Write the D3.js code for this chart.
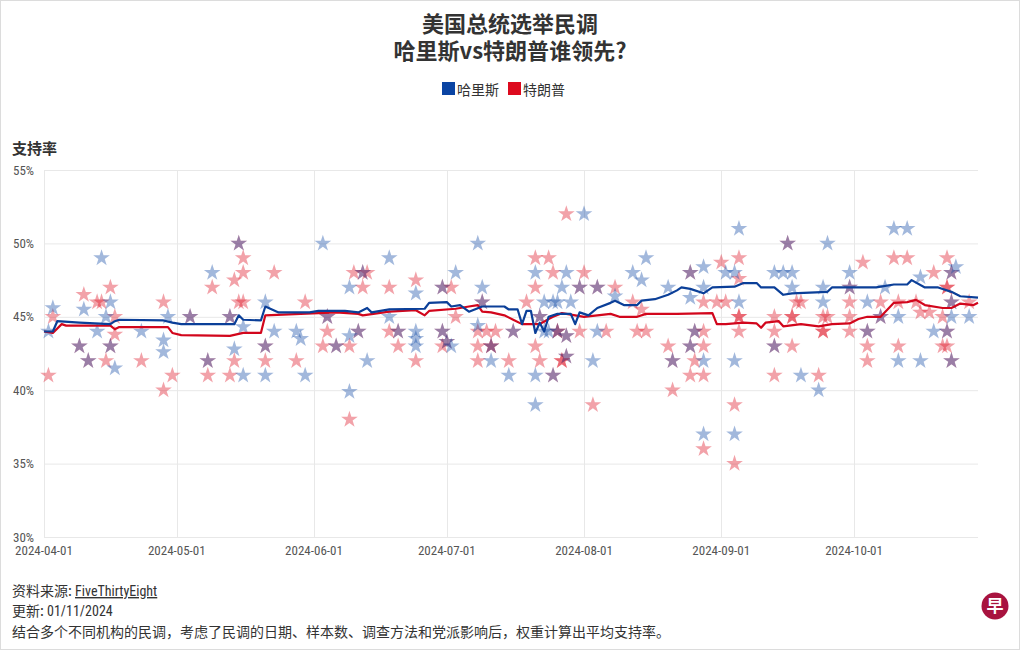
<!DOCTYPE html>
<html><head><meta charset="utf-8">
<script src="https://cdn.jsdelivr.net/npm/d3@7"></script>
<style>
body{margin:0;background:#fff;}
svg{display:block;}
</style></head><body><svg id="c" width="1020" height="650"></svg>
<script>
// ---------------- DATA ----------------
const seriesNames = ["哈里斯", "特朗普"];
const yTicks = [30, 35, 40, 45, 50, 55];
const xTicks = ["2024-04-01","2024-05-01","2024-06-01","2024-07-01","2024-08-01","2024-09-01","2024-10-01"];
const xDomain = ["2024-04-01", "2024-10-29"];

// individual polls (date MM-DD in 2024, support %)
const harrisPolls = [["04-02",44],["04-03",45.6],["04-09",43],["04-10",45.5],["04-11",42],["04-13",44],["04-14",49],["04-15",45],["04-16",46],["04-16",43],["04-17",41.5],["04-23",44],["04-28",43.4],["04-28",42.6],["04-29",45],
["05-04",45],["05-08",42],["05-09",48],["05-13",45],["05-14",42.8],["05-15",50],["05-16",44.3],["05-16",41],["05-21",46],["05-21",43],["05-21",41],["05-23",44],["05-28",44],["05-29",43.5],["05-30",41],
["06-03",50],["06-04",45],["06-06",43],["06-09",43.7],["06-09",47],["06-09",39.9],["06-11",44],["06-12",48],["06-13",42],["06-18",49],["06-18",45],["06-20",44],["06-24",44],["06-24",43.5],["06-24",43],["06-24",46.6],["06-30",47],["06-30",44],
["07-01",43.3],["07-02",43],["07-03",48],["07-08",50],["07-08",44.4],["07-09",47],["07-09",46],["07-11",42],["07-11",43],["07-15",41],["07-16",44],["07-21",39],["07-21",48],["07-21",41],["07-22",45],["07-23",46],["07-23",44],["07-24",44],["07-25",46],["07-25",41],["07-26",46],["07-26",44],["07-27",47],["07-28",48],["07-28",43.7],["07-28",42.3],["07-29",46],["07-31",47],
["08-01",52],["08-03",42],["08-04",47],["08-04",44],["08-08",46.4],["08-12",48],["08-14",47.5],["08-15",49],["08-20",47],["08-21",42],["08-25",48],["08-25",43],["08-25",46.3],["08-26",44],["08-28",48.4],["08-28",47],["08-28",42],["08-28",37],
["09-02",48],["09-04",48],["09-04",42],["09-04",37],["09-05",51],["09-05",46],["09-13",48],["09-13",43],["09-15",48],["09-16",50],["09-17",48],["09-17",47],["09-19",41],["09-23",40],["09-24",47],["09-24",46],["09-25",50],["09-30",48],["09-30",47],
["10-04",46],["10-04",44],["10-07",45],["10-08",47],["10-10",51],["10-11",45],["10-11",42],["10-13",51],["10-16",47.7],["10-16",42],["10-19",44],["10-22",44],["10-23",48],["10-23",46],["10-23",45],["10-23",42],["10-24",48.4],["10-27",45]];

const trumpPolls = [["04-02",41],["04-03",45],["04-09",43],["04-10",46.5],["04-11",42],["04-13",46],["04-14",46],["04-15",42],["04-16",47],["04-16",43],["04-17",45],["04-17",43.8],["04-23",42],["04-28",46],["04-28",40],["04-30",41],
["05-04",45],["05-08",42],["05-08",41],["05-09",47],["05-13",41],["05-13",45],["05-14",47.5],["05-14",42],["05-15",50],["05-15",46],["05-16",49],["05-16",48],["05-16",46],["05-21",43],["05-21",42],["05-23",48],["05-28",42],["05-30",46],
["06-03",43],["06-04",44],["06-04",45],["06-06",43],["06-09",43],["06-09",38],["06-10",48],["06-11",44],["06-12",48],["06-12",47],["06-13",48],["06-18",47],["06-18",44],["06-20",43],["06-20",44],["06-24",47.5],["06-24",42],["06-30",47],["06-30",43],["06-30",44],
["07-01",43.3],["07-02",47],["07-03",45],["07-08",44],["07-08",43],["07-08",42],["07-09",46],["07-10",44],["07-11",43],["07-11",43],["07-12",44],["07-15",42],["07-16",44],["07-19",46],["07-21",49],["07-21",47],["07-21",43],["07-22",45],["07-22",42],["07-24",49],["07-25",48],["07-25",41],["07-26",44],["07-26",44],["07-27",42],["07-27",42],["07-28",52],["07-28",43.7],["07-28",42.3],["07-31",44],["07-31",47],
["08-01",48],["08-03",39],["08-04",47],["08-06",44],["08-08",47],["08-12",46],["08-13",44],["08-14",45.5],["08-15",44],["08-20",43],["08-21",42],["08-21",40],["08-25",48],["08-25",43],["08-25",41],["08-26",44],["08-26",42],["08-28",46],["08-28",44],["08-28",43],["08-28",41],["08-28",36],["08-31",46],
["09-01",48.7],["09-02",46],["09-04",39],["09-04",35],["09-05",49],["09-05",47.6],["09-05",45],["09-05",45],["09-05",44],["09-13",45],["09-13",44],["09-13",43],["09-13",41],["09-16",50],["09-17",45],["09-17",45],["09-17",43],["09-18",46],["09-19",46],["09-23",41],["09-24",45],["09-24",44],["09-24",44],["09-25",45],["09-30",47],["09-30",46],["09-30",45],["09-30",44],
["10-03",48.7],["10-04",44],["10-04",43],["10-04",42],["10-07",45],["10-07",46],["10-10",49],["10-11",46],["10-11",43],["10-13",49],["10-15",46],["10-16",45.3],["10-18",45.3],["10-19",48],["10-21",45],["10-21",43],["10-22",43],["10-22",47],["10-22",47],["10-22",44],["10-22",49],["10-23",48],["10-23",46],["10-23",42],["10-27",46]];

// weighted polling averages
const harrisAvg = [["04-01",44.0],["04-03",44.0],["04-04",44.7],["04-09",44.6],["04-16",44.5],["04-17",44.7],["04-18",44.8],["04-28",44.75],["04-30",44.6],["05-02",44.5],["05-14",44.5],["05-15",45.1],["05-16",44.8],["05-20",44.75],["05-21",45.7],["05-24",45.3],["05-31",45.3],["06-02",45.4],["06-08",45.4],["06-11",45.3],["06-13",45.6],["06-14",45.3],["06-18",45.5],["06-26",45.55],["06-27",45.95],["07-01",46.0],["07-02",45.7],["07-04",45.8],["07-06",45.35],["07-09",45.7],["07-14",45.7],["07-15",45.5],["07-17",45.5],["07-18",44.5],["07-19",45.4],["07-20",45.4],["07-21",43.9],["07-22",44.6],["07-23",44.0],["07-24",45.0],["07-26",45.2],["07-29",45.2],["07-30",44.5],["07-31",45.3],["08-02",45.1],["08-04",45.6],["08-07",45.95],["08-08",46.1],["08-10",45.8],["08-13",45.8],["08-14",46.1],["08-17",46.2],["08-20",46.5],["08-22",46.8],["08-23",47.0],["08-25",46.9],["08-28",46.6],["08-30",47.0],["09-04",47.05],["09-06",47.3],["09-09",47.3],["09-10",47.0],["09-13",47.0],["09-15",46.5],["09-17",46.6],["09-25",46.7],["09-26",47.0],["10-06",47.0],["10-10",47.2],["10-13",47.2],["10-14",47.5],["10-17",47.0],["10-20",47.0],["10-23",46.7],["10-25",46.4],["10-29",46.3]];

const trumpAvg = [["04-01",44.0],["04-03",43.9],["04-05",44.5],["04-06",44.4],["04-16",44.4],["04-17",44.15],["04-18",44.3],["04-29",44.3],["04-30",43.9],["05-02",43.75],["05-13",43.7],["05-16",43.9],["05-20",43.9],["05-21",45.1],["06-06",45.3],["06-11",45.2],["06-12",45.1],["06-18",45.35],["06-24",45.45],["06-26",45.1],["06-27",45.4],["07-03",45.55],["07-06",45.7],["07-08",45.8],["07-09",45.35],["07-11",45.3],["07-14",45.1],["07-16",44.8],["07-18",44.5],["07-22",44.5],["07-24",44.85],["07-25",45.0],["07-27",45.25],["08-01",45.0],["08-04",45.1],["08-07",45.2],["08-09",45.0],["08-13",45.0],["08-15",45.2],["08-22",45.2],["08-30",45.25],["08-31",44.5],["09-02",44.5],["09-06",44.6],["09-09",44.55],["09-10",44.25],["09-11",44.6],["09-14",44.7],["09-15",44.35],["09-19",44.5],["09-23",44.35],["09-26",44.5],["09-30",44.55],["10-02",44.85],["10-04",45.0],["10-07",45.0],["10-10",45.95],["10-13",46.0],["10-15",46.15],["10-17",45.8],["10-21",45.6],["10-23",45.6],["10-25",45.9],["10-28",45.8],["10-29",45.95]];

// ---------------- STYLE ----------------
const LATIN = '"Roboto Condensed","Liberation Sans Narrow","Arial Narrow","Noto Sans CJK SC",sans-serif';
const CJK = '"Noto Sans CJK SC",sans-serif';
const blue = "#0a44a3", red = "#dd0a1e";
const blueLine = "#0b3f98", redLine = "#d2061c";

const parse = d3.timeParse("%Y-%m-%d");
const pd = s => parse("2024-" + s);

const svg = d3.select("#c");
svg.append("rect").attr("x",0.5).attr("y",0.5).attr("width",1019).attr("height",649)
  .attr("fill","#fff").attr("stroke","#dcdcdc");

const L = 44, R = 978, T = 170, B = 537;
const x = d3.scaleTime().domain(xDomain.map(parse)).range([L, R]);
const y = d3.scaleLinear().domain([30, 55]).range([B, T]);

// title
svg.append("text").attr("x",510).attr("y",32).attr("text-anchor","middle").attr("font-family",CJK)
  .attr("font-weight","bold").attr("font-size",22).attr("fill","#333").text("美国总统选举民调");
svg.append("text").attr("x",510).attr("y",59).attr("text-anchor","middle").attr("font-family",CJK)
  .attr("font-weight","bold").attr("font-size",22).attr("fill","#333").text("哈里斯vs特朗普谁领先?");

// legend
const leg = svg.append("g");
const legItems = [{name:seriesNames[0], c:blue, x:442},{name:seriesNames[1], c:red, x:508}];
legItems.forEach(it => {
  leg.append("rect").attr("x",it.x).attr("y",82).attr("width",13).attr("height",13).attr("fill",it.c);
  leg.append("text").attr("x",it.x+15).attr("y",95).attr("font-family",CJK).attr("font-size",14)
    .attr("fill","#333").text(it.name);
});

// y label
svg.append("text").attr("x",12).attr("y",154).attr("font-family",CJK).attr("font-weight","bold")
  .attr("font-size",15).attr("fill","#333").text("支持率");

// grid
const grid = svg.append("g");
grid.selectAll("line.h").data(yTicks).join("line").attr("class","h")
  .attr("x1",L).attr("x2",R).attr("y1",d=>y(d)+0.5).attr("y2",d=>y(d)+0.5)
  .attr("stroke","#e8e8e8");
grid.selectAll("line.v").data(xTicks).join("line").attr("class","v")
  .attr("x1",d=>Math.round(x(parse(d)))+0.5).attr("x2",d=>Math.round(x(parse(d)))+0.5)
  .attr("y1",T).attr("y2",B).attr("stroke","#e8e8e8");

// y tick labels
svg.append("g").selectAll("text").data(yTicks).join("text")
  .attr("x",13).attr("y",d=>y(d)).attr("dy","0.35em")
  .attr("font-family",LATIN).attr("font-size",13).attr("fill","#555").text(d=>d+"%");

// x tick labels
svg.append("g").selectAll("text").data(xTicks).join("text")
  .attr("x",d=>x(parse(d))).attr("y",555).attr("text-anchor","middle")
  .attr("font-family",LATIN).attr("font-size",13).attr("fill","#555").text(d=>d);

// stars
const star = d3.symbol().type(d3.symbolStar).size(86);
const pts = svg.append("g");
pts.selectAll("path.t").data(trumpPolls).join("path").attr("class","t")
  .attr("d",star).attr("transform",d=>`translate(${x(pd(d[0]))},${y(d[1])})`)
  .attr("fill",red).attr("fill-opacity",0.38);
pts.selectAll("path.h").data(harrisPolls).join("path").attr("class","h")
  .attr("d",star).attr("transform",d=>`translate(${x(pd(d[0]))},${y(d[1])})`)
  .attr("fill",blue).attr("fill-opacity",0.38);

// average lines
const line = d3.line().x(d=>x(pd(d[0]))).y(d=>y(d[1]));
svg.append("path").datum(trumpAvg).attr("d",line).attr("fill","none")
  .attr("stroke",redLine).attr("stroke-width",2.2).attr("stroke-linejoin","round");
svg.append("path").datum(harrisAvg).attr("d",line).attr("fill","none")
  .attr("stroke",blueLine).attr("stroke-width",2.2).attr("stroke-linejoin","round");

// footer
const f1 = svg.append("text").attr("x",12).attr("y",596).attr("font-family",LATIN)
  .attr("font-size",14).attr("fill","#333");
f1.append("tspan").attr("font-family",CJK).text("资料来源: ");
f1.append("tspan").attr("text-decoration","underline").text("FiveThirtyEight");
const f2 = svg.append("text").attr("x",12).attr("y",616).attr("font-family",LATIN)
  .attr("font-size",14).attr("fill","#333");
f2.append("tspan").attr("font-family",CJK).text("更新: ");
f2.append("tspan").text("01/11/2024");
svg.append("text").attr("x",12).attr("y",637).attr("font-family",CJK)
  .attr("font-size",14).attr("fill","#333")
  .text("结合多个不同机构的民调，考虑了民调的日期、样本数、调查方法和党派影响后，权重计算出平均支持率。");

// logo
svg.append("circle").attr("cx",995).attr("cy",606).attr("r",13.5).attr("fill","#a8133f");
svg.append("text").attr("x",995).attr("y",612).attr("text-anchor","middle")
  .attr("font-family",CJK).attr("font-weight","bold").attr("font-size",17).attr("fill","#fff").text("早");
</script></body></html>
